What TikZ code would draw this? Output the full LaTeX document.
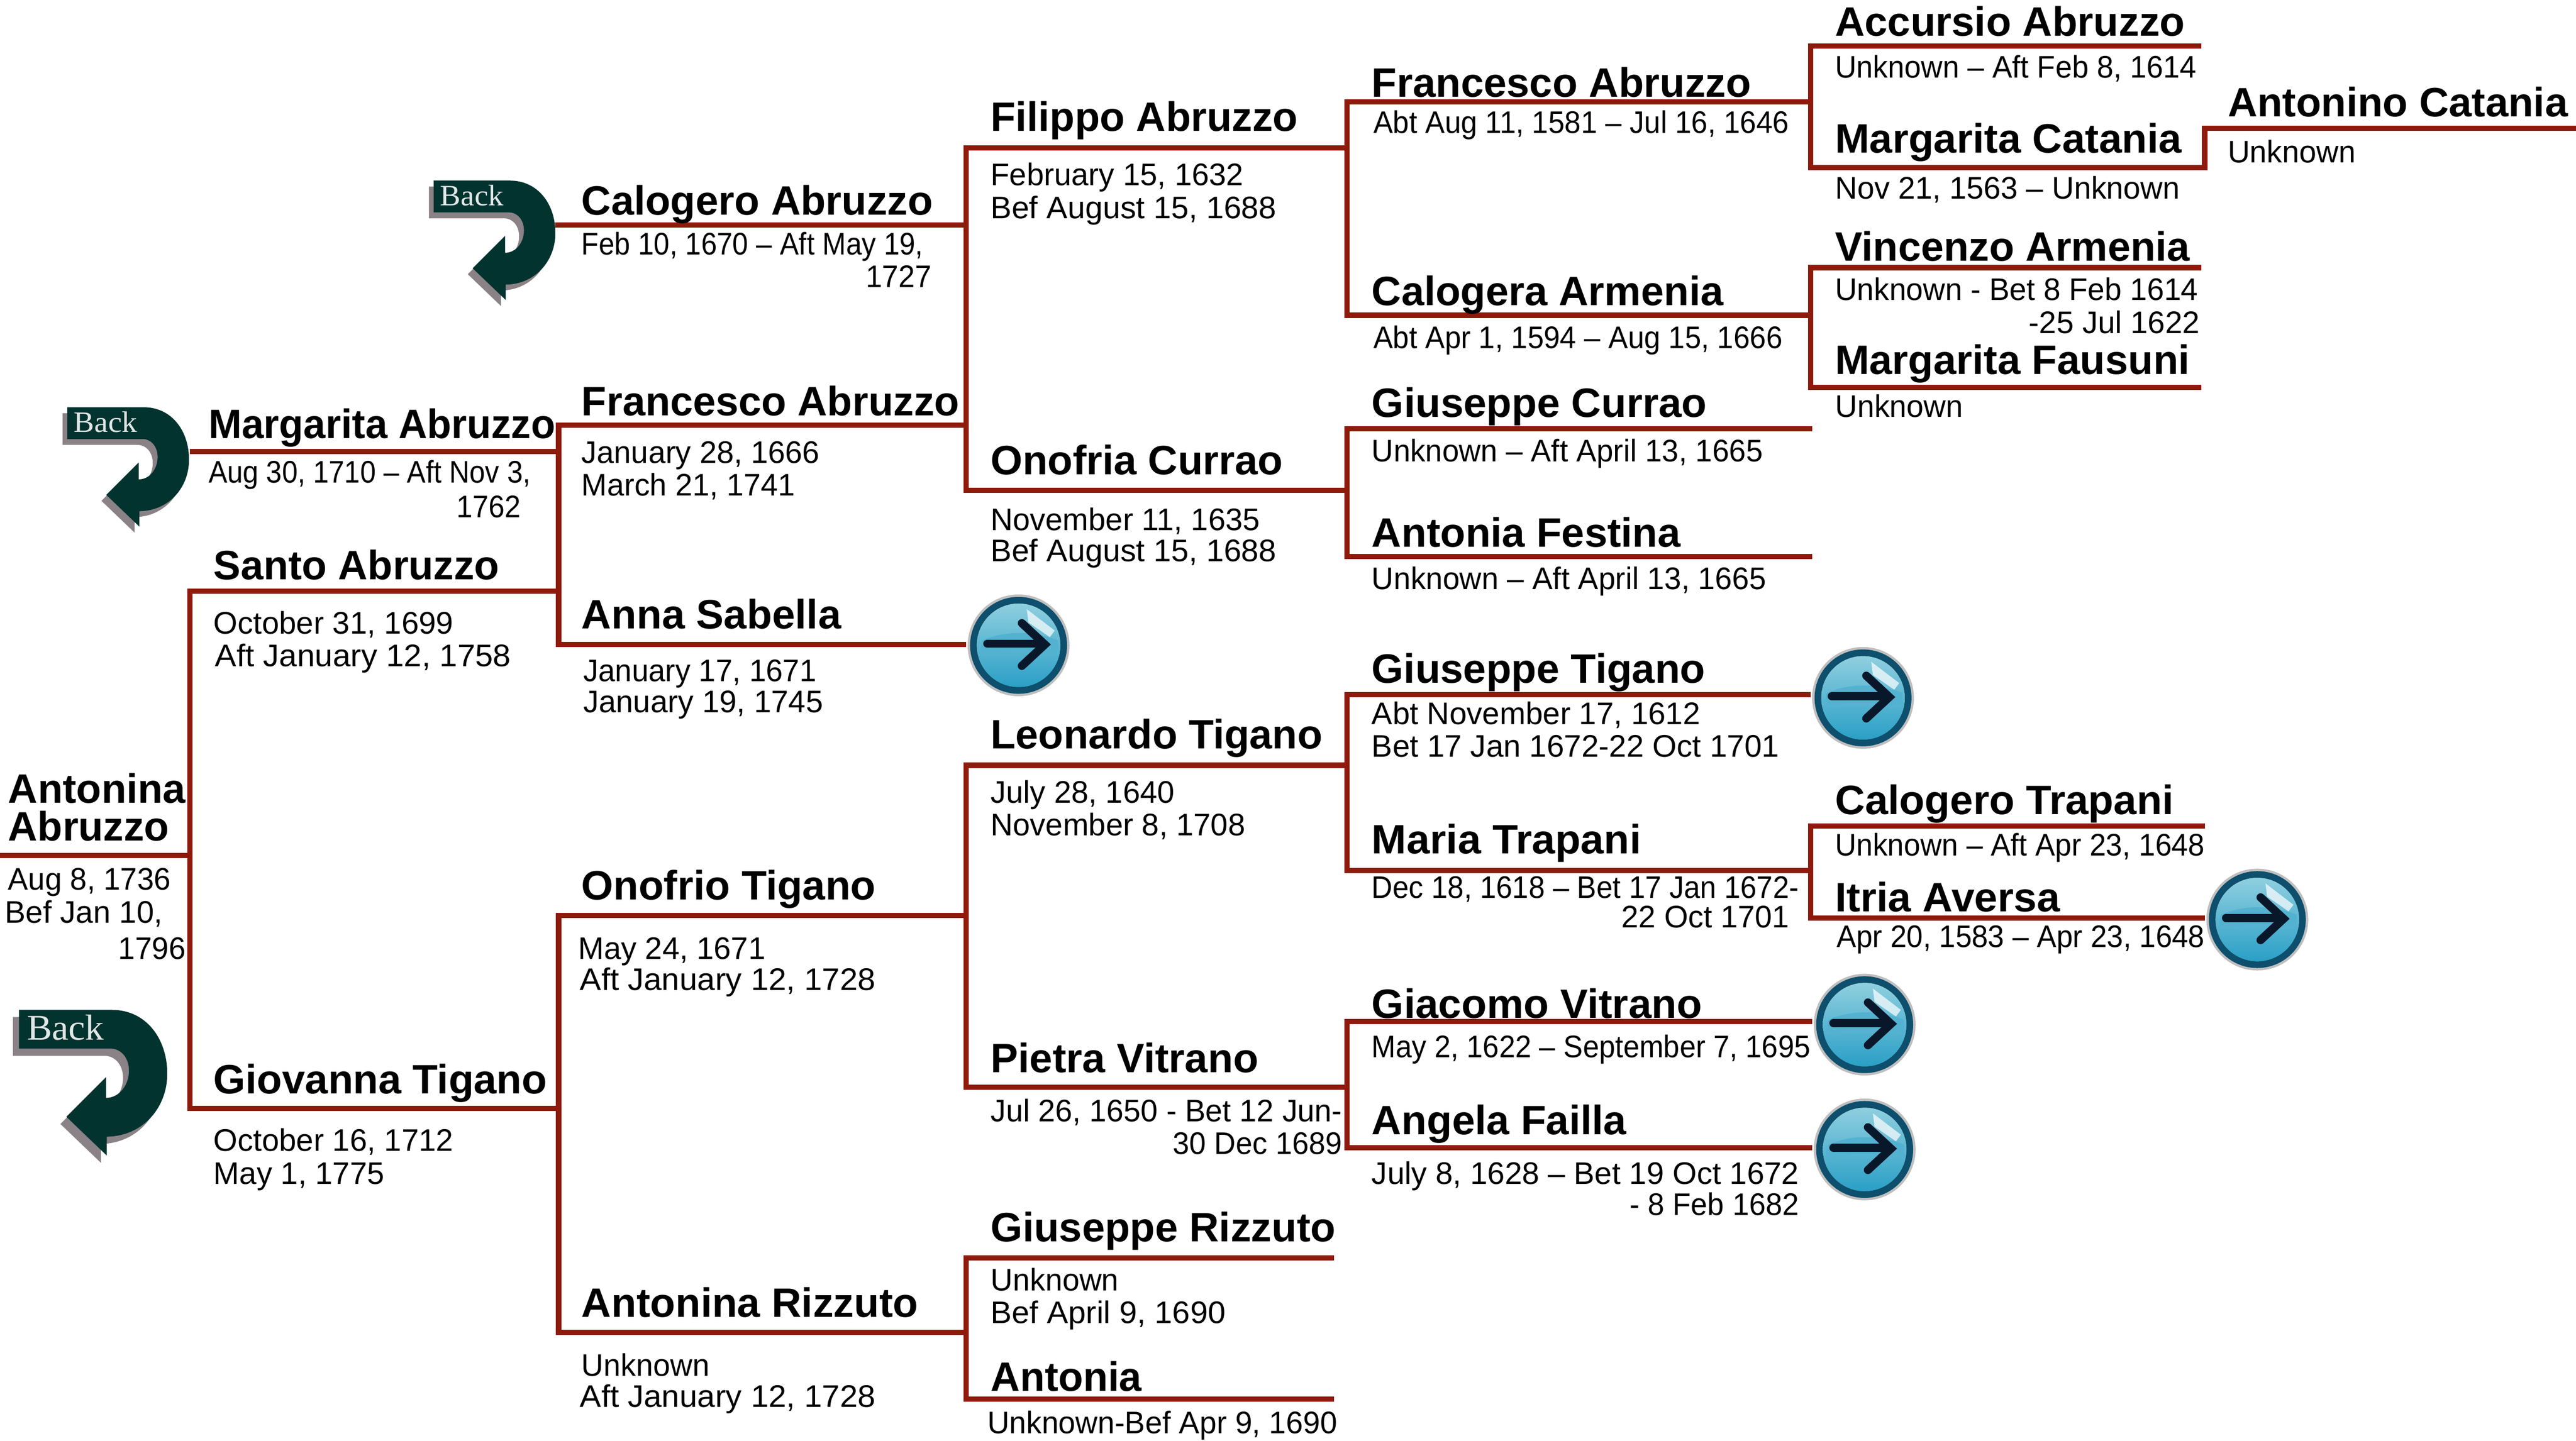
\documentclass[tikz,border=0pt]{standalone}
\usepackage{graphicx}
\usepackage{fontspec}
\setmainfont{Liberation Sans}
\newfontfamily\backserif{Liberation Serif}
\definecolor{rust}{HTML}{8E1A0B}
\definecolor{backfill}{HTML}{02332F}
\definecolor{backshadow}{HTML}{8A8286}
\definecolor{btnring}{HTML}{0D4F6C}
\definecolor{btntop}{HTML}{8FCFDF}
\definecolor{btnbot}{HTML}{2A9FC6}
\definecolor{btnarrow}{HTML}{08182A}
% \pname{id}{left}{baseline}{right}{text}
\newcommand{\pname}[5]{\node[nametext] (#1) at (#2,#3) {\resizebox{\dimexpr#4pt-#2pt\relax}{\height}{#5}};}
\newcommand{\pdate}[5]{\node[datetext] (#1) at (#2,#3) {\resizebox{\dimexpr#4pt-#2pt\relax}{\height}{#5}};}
\tikzset{
  x=1pt,y=-1pt,
  nametext/.style={anchor=base west,inner sep=0pt,outer sep=0pt,font=\fontsize{25}{25}\selectfont\bfseries,text=black},
  datetext/.style={anchor=base west,inner sep=0pt,outer sep=0pt,font=\fontsize{19}{19}\selectfont,text=black},
  rule/.style={draw=rust,line width=3.2pt},
  bracket/.style={draw=rust,line width=3.2pt,line cap=rect},
  arrowbtn/.style={circle,minimum size=64pt,inner sep=0pt,outer sep=0pt,
    path picture={
      \begin{scope}[shift={(path picture bounding box.center)}]
        \fill[black!25] (0,0) circle (31);
        \fill[btnring] (0,0) circle (29.5);
        \fill[top color=btntop,bottom color=btnbot] (0,0) circle (25.5);
        \fill[btnbot!60!btntop] (-22,-3) .. controls (-8,-9) and (8,-9) .. (24,-3) -- (24,6) .. controls (8,2) and (-8,2) .. (-24,6) -- cycle;
        \fill[btntop!75!white] (-20,8) arc (155:25:0.1) -- cycle;
        \fill[white,opacity=.7] (5,-22) -- (22,-9) -- (19,-5) -- (6,-14) -- cycle;
        \draw[btnarrow,line width=5pt,line cap=round,line join=miter] (-19,-1) -- (15,-1);
        \draw[btnarrow,line width=5pt,line cap=round,line join=miter] (2,-13.5) -- (16,-.5) -- (2,12.5);
      \end{scope}
    }},
  pics/backicon/.style={code={
    \begin{scope}[scale=#1]
      \path[fill=backshadow,shift={(-3.6,4.4)}]
        (0,0) -- (56.7,0) .. controls (77,0) and (90.3,17) .. (90.3,38.9)
        .. controls (90.3,60) and (75,77) .. (53.5,77.2) -- (53.5,88.7) -- (28.9,65.1) -- (53,41) -- (53,53.6)
        .. controls (61,53.6) and (67,46) .. (67,37) .. controls (67,29) and (62,23.6) .. (56,23.6) -- (0,23.6) -- cycle;
      \path[fill=backfill]
        (0,0) -- (56.7,0) .. controls (77,0) and (90.3,17) .. (90.3,38.9)
        .. controls (90.3,60) and (75,77) .. (53.5,77.2) -- (53.5,88.7) -- (28.9,65.1) -- (53,41) -- (53,53.6)
        .. controls (61,53.6) and (67,46) .. (67,37) .. controls (67,29) and (62,23.6) .. (56,23.6) -- (0,23.6) -- cycle;
      \node[anchor=base west,inner sep=0pt,transform shape,text=white!88!backfill,font=\backserif\fontsize{22}{22}\selectfont] (-label) at (4.7,18.4) {\resizebox{47pt}{\height}{Back}};
    \end{scope}
  }}
}
\begin{document}
\begin{tikzpicture}
\useasboundingbox (0,0) rectangle (1568,877.55);

% back icons
\pic (backa) at (11.5,615) {backicon=1};
\pic (backb) at (41,248) {backicon=0.82};
\pic (backc) at (264,110) {backicon=0.82};

% arrow buttons
\node[arrowbtn] (arrA) at (620,393) {};
\node[arrowbtn] (arrB) at (1134,425) {};
\node[arrowbtn] (arrC) at (1374,560) {};
\node[arrowbtn] (arrD) at (1135,624) {};
\node[arrowbtn] (arrE) at (1135,700) {};

% line end points
\coordinate (antL) at (0,521);    \coordinate (antR) at (115.5,521);
\coordinate (sanL) at (115.5,360);  \coordinate (sanR) at (340,360);
\coordinate (gioL) at (115.5,675);  \coordinate (gioR) at (340,675);
\coordinate (marL) at (115.5,275);  \coordinate (marR) at (340,275);
\coordinate (fraL) at (340,259);  \coordinate (fraR) at (588,259);
\coordinate (annL) at (340,392.5);
\coordinate (calL) at (338,137);  \coordinate (calR) at (588,137);
\coordinate (filL) at (588,90);   \coordinate (filR) at (820,90);
\coordinate (onoL) at (588,298.5);  \coordinate (onoR) at (820,298.5);
\coordinate (frbL) at (820,62);   \coordinate (frbR) at (1102,62);
\coordinate (cgaL) at (820,192);  \coordinate (cgaR) at (1102,192);
\coordinate (accL) at (1102,28);  \coordinate (accR) at (1340,28);
\coordinate (mcaL) at (1102,102); \coordinate (mcaR) at (1342,102);
\coordinate (atnL) at (1342,78);  \coordinate (atnR) at (1568,78);
\coordinate (vinL) at (1102,163); \coordinate (vinR) at (1340,163);
\coordinate (fauL) at (1102,236); \coordinate (fauR) at (1340,236);
\coordinate (gcuL) at (820,261);  \coordinate (gcuR) at (1103,261);
\coordinate (afeL) at (820,339);  \coordinate (afeR) at (1103,339);
\coordinate (onfL) at (340,557.5);  \coordinate (onfR) at (588,557.5);
\coordinate (arzL) at (340,811.5);  \coordinate (arzR) at (588,811.5);
\coordinate (leoL) at (588,466);  \coordinate (leoR) at (820,466);
\coordinate (pieL) at (588,662);  \coordinate (pieR) at (820,662);
\coordinate (gtiL) at (820,423);
\coordinate (mtrL) at (820,530);  \coordinate (mtrR) at (1102,530);
\coordinate (ctrL) at (1102,503); \coordinate (ctrR) at (1342,503);
\coordinate (itrL) at (1102,559);
\coordinate (gviL) at (820,622);
\coordinate (afaL) at (820,699);
\coordinate (griL) at (588,766);  \coordinate (griR) at (812,766);
\coordinate (atoL) at (588,852);  \coordinate (atoR) at (812,852);

% person lines
\foreach \p in {ant,san,gio,mar,fra,cal,fil,ono,frb,cga,acc,mca,atn,vin,fau,gcu,afe,onf,arz,leo,pie,mtr,ctr,gri,ato}
  \draw[rule] (\p L) -- (\p R);
\draw[rule] (annL) -- (annL -| arrA.west);
\draw[rule] (gtiL) -- (gtiL -| arrB.west);
\draw[rule] (itrL) -- (itrL -| arrC.west);
\draw[rule] (gviL) -- (gviL -| arrD.west);
\draw[rule] (afaL) -- (afaL -| arrE.west);

% family brackets
\draw[bracket] (sanL) -- (gioL);
\draw[bracket] (fraL) -- (annL);
\draw[bracket] (onfL) -- (arzL);
\draw[bracket] (filL) -- (onoL);
\draw[bracket] (leoL) -- (pieL);
\draw[bracket] (griL) -- (atoL);
\draw[bracket] (frbL) -- (cgaL);
\draw[bracket] (gcuL) -- (afeL);
\draw[bracket] (gtiL) -- (mtrL);
\draw[bracket] (gviL) -- (afaL);
\draw[bracket] (accL) -- (mcaL);
\draw[bracket] (vinL) -- (fauL);
\draw[bracket] (ctrL) -- (itrL);
\draw[bracket] (atnL) -- (mcaR);

% names
\pname{nAcc}{1117}{22}{1330}{Accursio Abruzzo}
\pname{nAtn}{1356}{71}{1563}{Antonino Catania}
\pname{nMca}{1117}{93}{1328}{Margarita Catania}
\pname{nVin}{1117}{159}{1333}{Vincenzo Armenia}
\pname{nFau}{1117}{228}{1333}{Margarita Fausuni}
\pname{nFrb}{835}{59}{1066}{Francesco Abruzzo}
\pname{nCga}{835}{186}{1049}{Calogera Armenia}
\pname{nGcu}{835}{254}{1039}{Giuseppe Currao}
\pname{nAfe}{835}{333}{1023}{Antonia Festina}
\pname{nGti}{835}{416}{1038}{Giuseppe Tigano}
\pname{nMtr}{835}{520}{999}{Maria Trapani}
\pname{nCtr}{1117}{496}{1323}{Calogero Trapani}
\pname{nItr}{1117}{555}{1254}{Itria Aversa}
\pname{nGvi}{835}{620}{1036}{Giacomo Vitrano}
\pname{nAfa}{835}{691}{990}{Angela Failla}
\pname{nFil}{603}{80}{790}{Filippo Abruzzo}
\pname{nOno}{603}{289}{781}{Onofria Currao}
\pname{nLeo}{603}{456}{805}{Leonardo Tigano}
\pname{nPie}{603}{653}{766}{Pietra Vitrano}
\pname{nGri}{603}{756}{813}{Giuseppe Rizzuto}
\pname{nAto}{603}{847}{695}{Antonia}
\pname{nCal}{354}{131}{568}{Calogero Abruzzo}
\pname{nFra}{354}{253}{584}{Francesco Abruzzo}
\pname{nAnn}{354}{383}{512}{Anna Sabella}
\pname{nOnf}{354}{548}{533}{Onofrio Tigano}
\pname{nArz}{354}{802}{559}{Antonina Rizzuto}
\pname{nMar}{127}{267}{338}{Margarita Abruzzo}
\pname{nSan}{130}{353}{304}{Santo Abruzzo}
\pname{nGio}{130}{666}{333}{Giovanna Tigano}
\pname{nAnta}{5}{489}{113}{Antonina}
\pname{nAntb}{5}{512}{103}{Abruzzo}

% dates
\pdate{dAcc}{1117}{47.5}{1337}{Unknown – Aft Feb 8, 1614}
\pdate{dMca}{1117}{121}{1327}{Nov 21, 1563 – Unknown}
\pdate{dAtn}{1356}{99}{1434}{Unknown}
\pdate{dVina}{1117}{183}{1338}{Unknown - Bet 8 Feb 1614}
\pdate{dVinb}{1235}{203}{1339}{-25 Jul 1622}
\pdate{dFau}{1117}{254}{1195}{Unknown}
\pdate{dFrb}{836}{81}{1089}{Abt Aug 11, 1581 – Jul 16, 1646}
\pdate{dCga}{836}{212}{1085}{Abt Apr 1, 1594 – Aug 15, 1666}
\pdate{dGcu}{835}{281}{1073}{Unknown – Aft April 13, 1665}
\pdate{dAfe}{835}{359}{1075}{Unknown – Aft April 13, 1665}
\pdate{dGtia}{835}{441}{1035}{Abt November 17, 1612}
\pdate{dGtib}{835}{461}{1083}{Bet 17 Jan 1672-22 Oct 1701}
\pdate{dMtra}{835}{547}{1095}{Dec 18, 1618 – Bet 17 Jan 1672-}
\pdate{dMtrb}{987}{565}{1089}{22 Oct 1701}
\pdate{dCtr}{1117}{521}{1342}{Unknown – Aft Apr 23, 1648}
\pdate{dItr}{1118}{577}{1342}{Apr 20, 1583 – Apr 23, 1648}
\pdate{dGvi}{835}{644}{1102}{May 2, 1622 – September 7, 1695}
\pdate{dAfaa}{835}{721}{1095}{July 8, 1628 – Bet 19 Oct 1672}
\pdate{dAfab}{992}{740}{1095}{- 8 Feb 1682}
\pdate{dFila}{603}{113}{757}{February 15, 1632}
\pdate{dFilb}{603}{133}{777}{Bef August 15, 1688}
\pdate{dOnoa}{603}{323}{767}{November 11, 1635}
\pdate{dOnob}{603}{342}{777}{Bef August 15, 1688}
\pdate{dLeoa}{603}{489}{715}{July 28, 1640}
\pdate{dLeob}{603}{509}{758}{November 8, 1708}
\pdate{dPiea}{603}{683}{817}{Jul 26, 1650 - Bet 12 Jun-}
\pdate{dPieb}{714}{703}{817}{30 Dec 1689}
\pdate{dGria}{603}{786}{681}{Unknown}
\pdate{dGrib}{603}{806}{746}{Bef April 9, 1690}
\pdate{dAto}{601}{873}{814}{Unknown-Bef Apr 9, 1690}
\pdate{dCala}{354}{155}{562}{Feb 10, 1670 – Aft May 19,}
\pdate{dCalb}{527}{175}{567}{1727}
\pdate{dFraa}{354}{282}{499}{January 28, 1666}
\pdate{dFrab}{354}{302}{484}{March 21, 1741}
\pdate{dAnna}{355}{415}{497}{January 17, 1671}
\pdate{dAnnb}{355}{434}{501}{January 19, 1745}
\pdate{dOnfa}{352}{584}{466}{May 24, 1671}
\pdate{dOnfb}{353}{603}{533}{Aft January 12, 1728}
\pdate{dArza}{354}{838}{432}{Unknown}
\pdate{dArzb}{353}{857}{533}{Aft January 12, 1728}
\pdate{dMara}{127}{294}{323}{Aug 30, 1710 – Aft Nov 3,}
\pdate{dMarb}{278}{315}{317}{1762}
\pdate{dSana}{130}{386}{276}{October 31, 1699}
\pdate{dSanb}{131}{406}{311}{Aft January 12, 1758}
\pdate{dGioa}{130}{701}{276}{October 16, 1712}
\pdate{dGiob}{130}{721}{234}{May 1, 1775}
\pdate{dAnta}{5}{542}{104}{Aug 8, 1736}
\pdate{dAntb}{3}{562}{99}{Bef Jan 10,}
\pdate{dAntc}{72}{584}{113}{1796}
\end{tikzpicture}
\end{document}
